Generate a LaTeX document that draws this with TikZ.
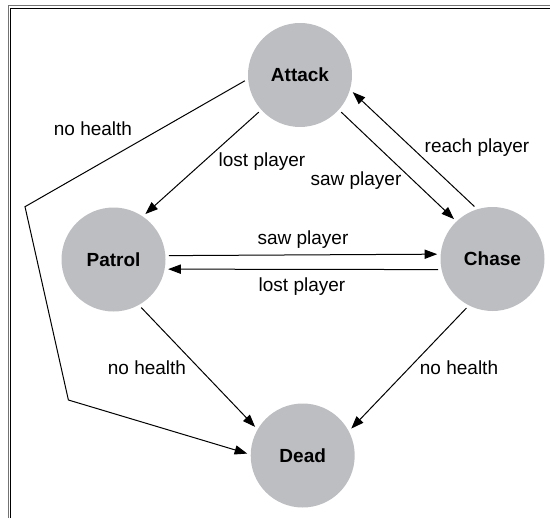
\documentclass[tikz,border=0pt]{standalone}
\usepackage{fontspec}
\setmainfont{Liberation Sans}
\usepackage{tikz}
\usetikzlibrary{arrows.meta}
\definecolor{stategray}{RGB}{189,190,194}

\begin{document}
\begin{tikzpicture}[x=0.5pt,y=-0.5pt,
  state/.style={circle,fill=stategray,minimum size=52pt,inner sep=0pt,outer sep=1.75pt,font=\fontsize{9.5}{11}\selectfont\bfseries},
  lbl/.style={font=\fontsize{9.5}{11}\selectfont,inner sep=0pt},
  trans/.style={line width=0.5pt,-{Triangle[length=6.3pt,width=4.6pt]}}]
\useasboundingbox (0,0) rectangle (550,518);
% frame
\draw[gray!90!black,line width=0.7pt] (8.5,518) -- (8.5,5.5) -- (550,5.5);
\draw[line width=0.7pt] (10.5,518) -- (10.5,8.5) -- (550,8.5);
% states
\node[state] (attack) at (300,75) {Attack};
\node[state] (patrol) at (113.5,259.5) {Patrol};
\node[state] (chase) at (492.5,259) {Chase};
\node[state] (dead) at (302.7,455.5) {Dead};
\coordinate (bendA) at (25,206.7);
\coordinate (bendB) at (68.4,400);
% transitions
\draw[trans] (attack.222) -- (patrol.55);
\draw[trans] (attack.-42) -- (chase.134.6);
\draw[trans] (chase.109.5) -- (attack.-18.6);
\draw[trans] (patrol.4.6) -- (chase.175.7);
\draw[trans] (chase.191.6) -- (patrol.-10.6);
\draw[trans] (patrol.-60.6) -- (dead.149.4);
\draw[trans] (chase.-118.6) -- (dead.29.8);
\draw[trans] (attack.186.4) -- (bendA) -- (bendB) -- (dead.178.5);
% labels
\node[lbl] (nhTop) at (93,129) {no health};
\node[lbl] (lpAttack) at (262,162) {lost player};
\node[lbl] (spAttack) at (356,181) {saw player};
\node[lbl] (rpChase) at (477,148) {reach player};
\node[lbl] (spPatrol) at (303,240) {saw player};
\node[lbl] (lpChase) at (302,287) {lost player};
\node[lbl] (nhPatrol) at (147,368) {no health};
\node[lbl] (nhChase) at (459,368) {no health};
\end{tikzpicture}
\end{document}
